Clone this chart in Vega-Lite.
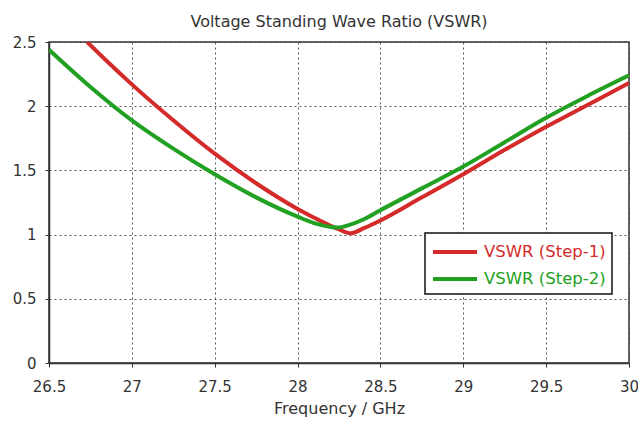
{
  "$schema": "https://vega.github.io/schema/vega-lite/v6.json",
  "autosize": "none",
  "width": 580,
  "height": 321,
  "padding": {"left": 49, "top": 42, "right": 9, "bottom": 58},
  "background": "white",
  "title": {"text": "Voltage Standing Wave Ratio (VSWR)", "font": "DejaVu Sans", "fontSize": 16, "fontWeight": "normal", "color": "#333", "offset": 5},
  "config": {
    "view": {"stroke": "#333", "strokeWidth": 1.5},
    "axis": {"labelFont": "DejaVu Sans", "titleFont": "DejaVu Sans", "labelFontSize": 15, "titleFontSize": 16, "titleFontWeight": "normal", "labelColor": "#333", "titleColor": "#333", "domainColor": "#333", "domainWidth": 1.5, "tickColor": "#333", "gridColor": "#444", "gridDash": [2, 3], "gridWidth": 1, "gridOpacity": 0.9}
  },
  "data": {"values": [
    {"f": 26.73, "v": 2.5, "s": "VSWR (Step-1)"},
    {"f": 26.85, "v": 2.35, "s": "VSWR (Step-1)"},
    {"f": 27.0, "v": 2.17, "s": "VSWR (Step-1)"},
    {"f": 27.25, "v": 1.89, "s": "VSWR (Step-1)"},
    {"f": 27.5, "v": 1.63, "s": "VSWR (Step-1)"},
    {"f": 27.75, "v": 1.4, "s": "VSWR (Step-1)"},
    {"f": 28.0, "v": 1.2, "s": "VSWR (Step-1)"},
    {"f": 28.15, "v": 1.1, "s": "VSWR (Step-1)"},
    {"f": 28.25, "v": 1.04, "s": "VSWR (Step-1)"},
    {"f": 28.32, "v": 1.01, "s": "VSWR (Step-1)"},
    {"f": 28.4, "v": 1.05, "s": "VSWR (Step-1)"},
    {"f": 28.5, "v": 1.11, "s": "VSWR (Step-1)"},
    {"f": 28.75, "v": 1.29, "s": "VSWR (Step-1)"},
    {"f": 29.0, "v": 1.47, "s": "VSWR (Step-1)"},
    {"f": 29.25, "v": 1.66, "s": "VSWR (Step-1)"},
    {"f": 29.5, "v": 1.84, "s": "VSWR (Step-1)"},
    {"f": 29.75, "v": 2.01, "s": "VSWR (Step-1)"},
    {"f": 30.0, "v": 2.18, "s": "VSWR (Step-1)"},
    {"f": 26.5, "v": 2.44, "s": "VSWR (Step-2)"},
    {"f": 26.75, "v": 2.15, "s": "VSWR (Step-2)"},
    {"f": 27.0, "v": 1.89, "s": "VSWR (Step-2)"},
    {"f": 27.25, "v": 1.67, "s": "VSWR (Step-2)"},
    {"f": 27.5, "v": 1.47, "s": "VSWR (Step-2)"},
    {"f": 27.75, "v": 1.29, "s": "VSWR (Step-2)"},
    {"f": 28.0, "v": 1.14, "s": "VSWR (Step-2)"},
    {"f": 28.1, "v": 1.09, "s": "VSWR (Step-2)"},
    {"f": 28.2, "v": 1.06, "s": "VSWR (Step-2)"},
    {"f": 28.25, "v": 1.055, "s": "VSWR (Step-2)"},
    {"f": 28.3, "v": 1.07, "s": "VSWR (Step-2)"},
    {"f": 28.4, "v": 1.12, "s": "VSWR (Step-2)"},
    {"f": 28.5, "v": 1.19, "s": "VSWR (Step-2)"},
    {"f": 28.75, "v": 1.36, "s": "VSWR (Step-2)"},
    {"f": 29.0, "v": 1.53, "s": "VSWR (Step-2)"},
    {"f": 29.25, "v": 1.72, "s": "VSWR (Step-2)"},
    {"f": 29.5, "v": 1.91, "s": "VSWR (Step-2)"},
    {"f": 29.75, "v": 2.08, "s": "VSWR (Step-2)"},
    {"f": 30.0, "v": 2.24, "s": "VSWR (Step-2)"}
  ]},
  "mark": {"type": "line", "strokeWidth": 4, "interpolate": "monotone", "clip": true},
  "encoding": {
    "x": {"field": "f", "type": "quantitative", "title": "Frequency / GHz",
      "scale": {"domain": [26.5, 30], "nice": false, "zero": false},
      "axis": {"values": [26.5, 27, 27.5, 28, 28.5, 29, 29.5, 30], "format": "~g", "labelPadding": 12, "titlePadding": 6, "tickSize": 4, "labelFlush": false}},
    "y": {"field": "v", "type": "quantitative", "title": null,
      "scale": {"domain": [0, 2.5], "nice": false},
      "axis": {"values": [0, 0.5, 1, 1.5, 2, 2.5], "format": "~g", "labelPadding": 9, "tickSize": 4}},
    "color": {"field": "s", "type": "nominal", "title": null,
      "scale": {"domain": ["VSWR (Step-1)", "VSWR (Step-2)"], "range": ["#d42a2a", "#22a022"]},
      "legend": {"orient": "none", "legendX": 376, "legendY": 191, "symbolType": "M-2,0L2,0", "symbolSize": 484, "symbolOffset": 11, "symbolStrokeWidth": 4, "labelFont": "DejaVu Sans", "labelFontSize": 16.5, "strokeColor": "#111", "fillColor": "white", "padding": 6, "rowPadding": 5, "labelOffset": 16,
        "encode": {"labels": {"update": {"fill": {"signal": "datum.label == 'VSWR (Step-1)' ? '#d42a2a' : '#22a022'"}}}, "legend": {"update": {"strokeWidth": {"value": 1.5}}}}}
    }
  }
}
